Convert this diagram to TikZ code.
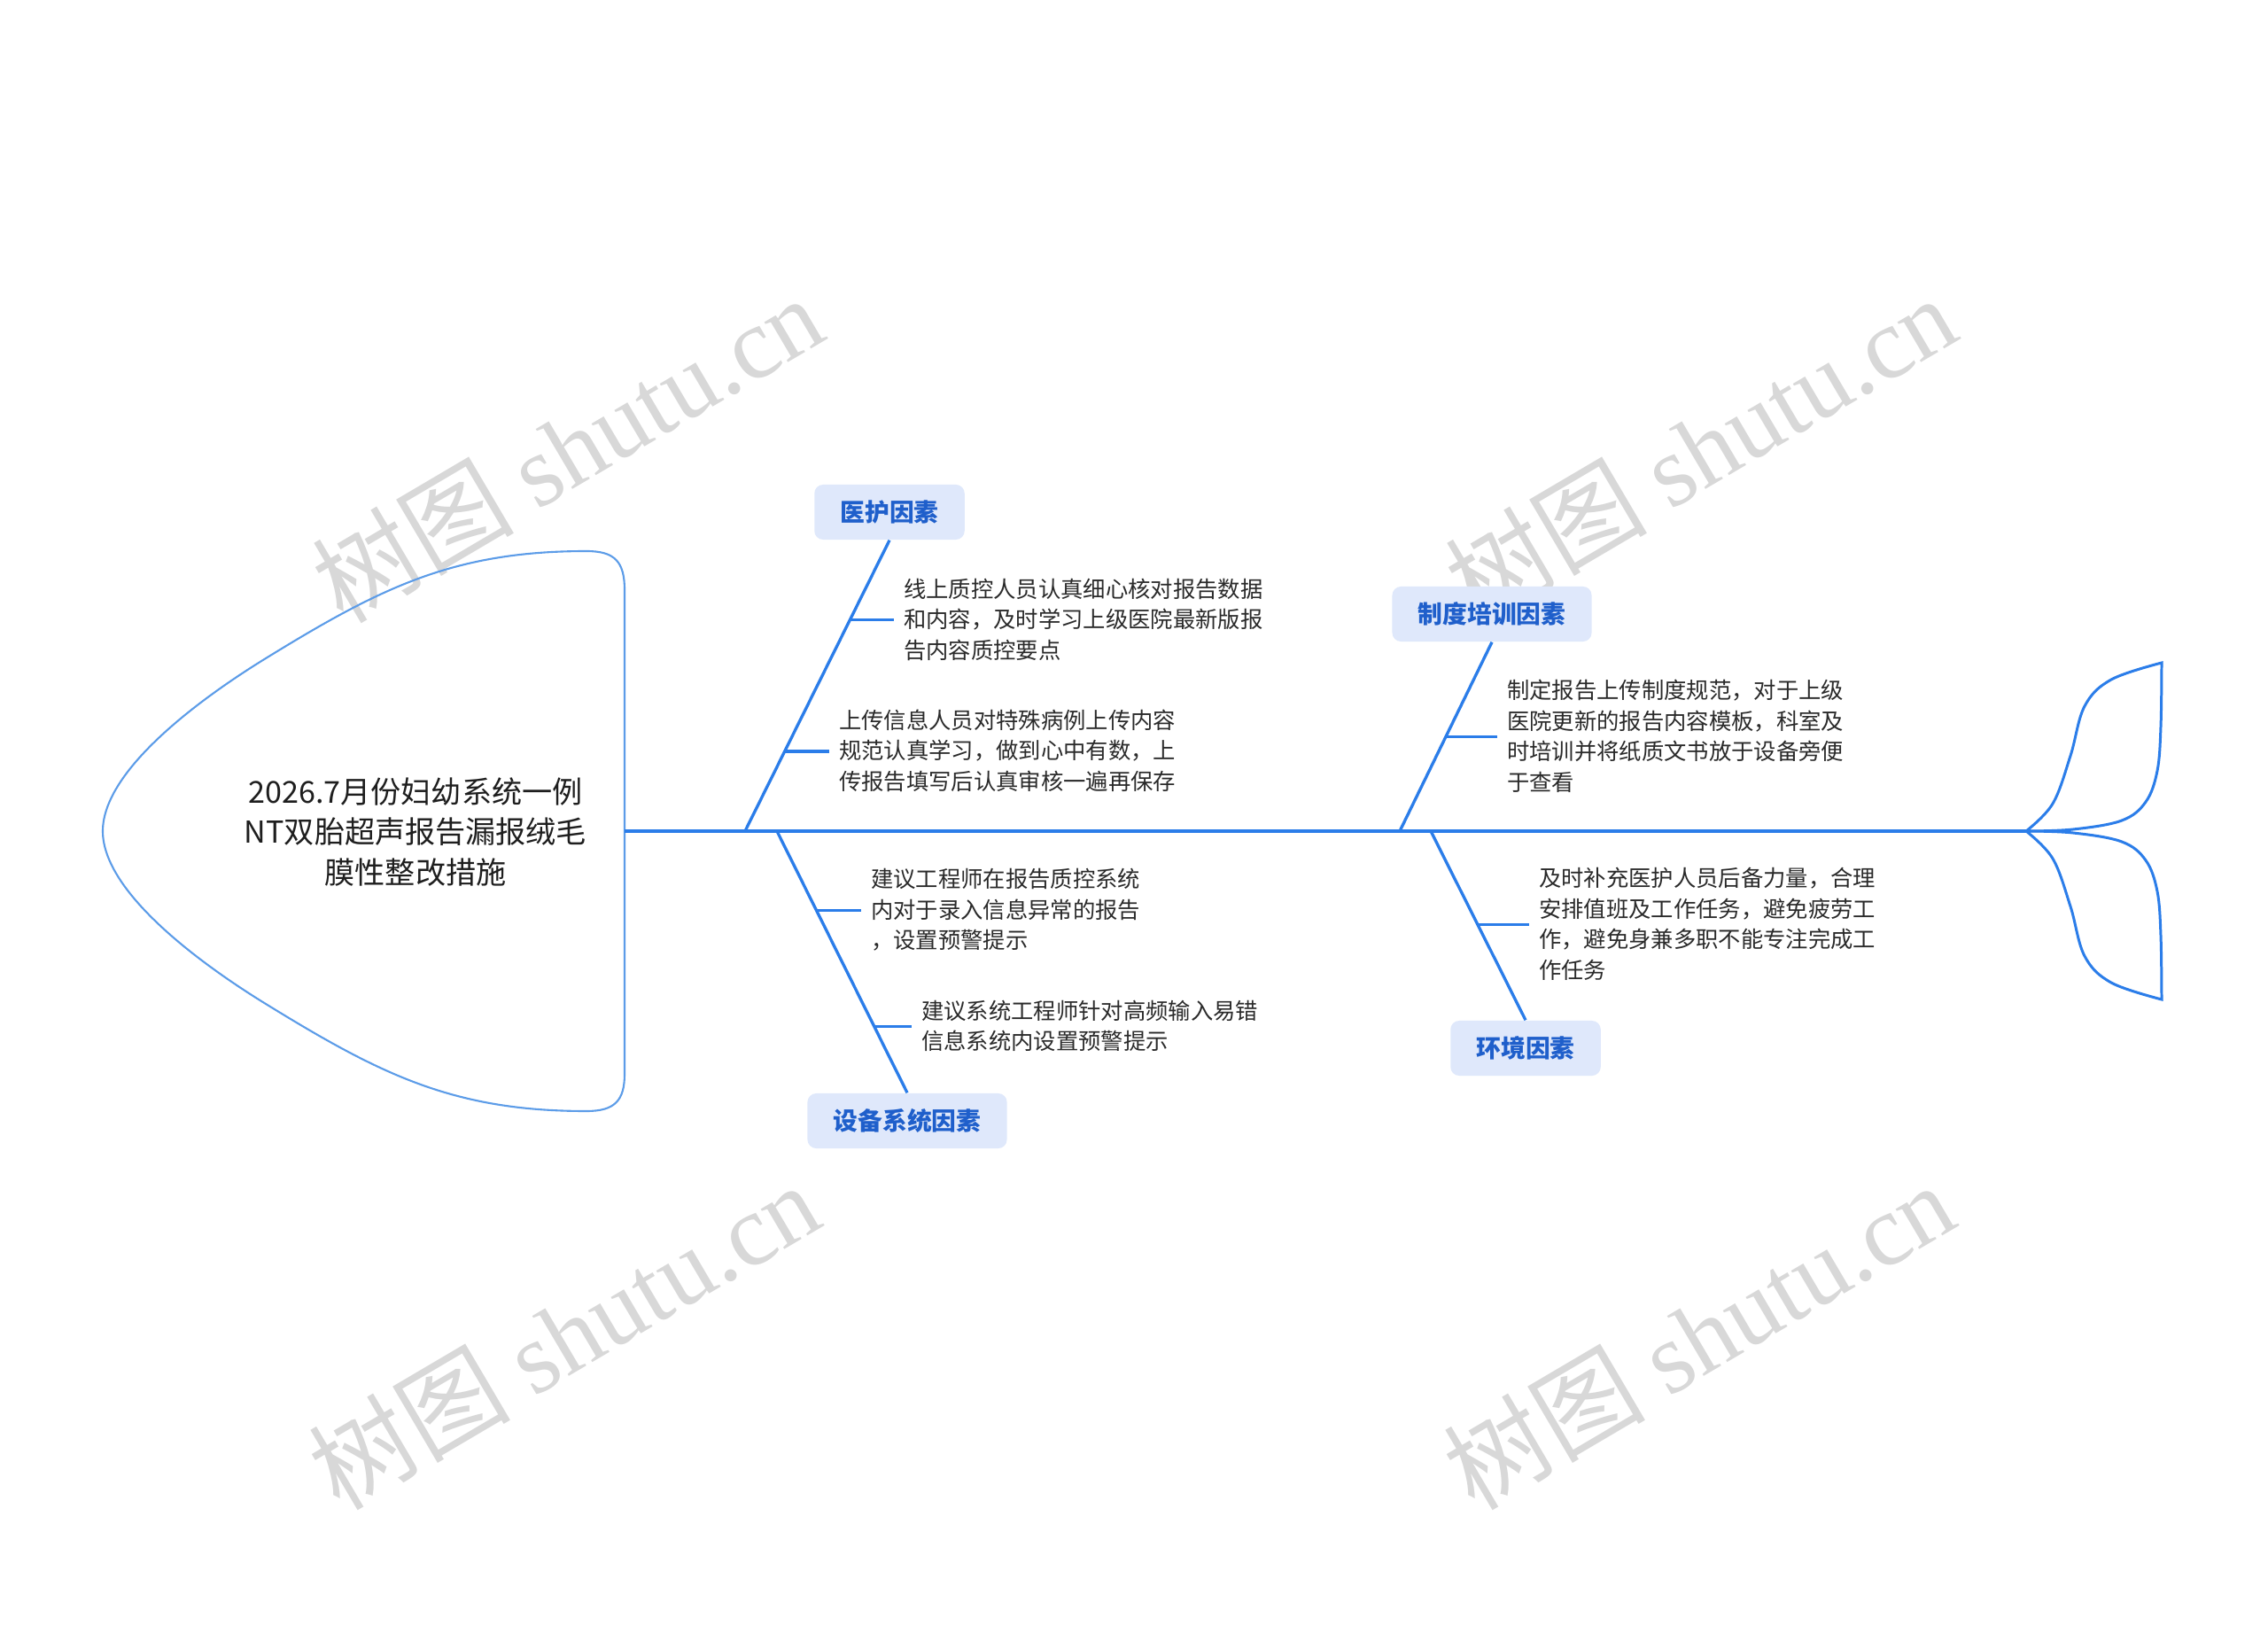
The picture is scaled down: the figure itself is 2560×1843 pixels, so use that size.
\documentclass[tikz,border=0pt]{standalone}
\usepackage{fontspec}
\setmainfont{Noto Sans CJK SC}
\newfontfamily\wmserif{Liberation Serif}
\usetikzlibrary{calc}
\definecolor{bone}{HTML}{2B7DE9}
\definecolor{headc}{HTML}{5C9CE8}
\definecolor{labtxt}{HTML}{1F5FCB}
\definecolor{labfill}{HTML}{DFE8FB}
\definecolor{bodytxt}{HTML}{2A2A2A}
\definecolor{titletxt}{HTML}{1E1E1E}
\definecolor{wmgray}{HTML}{D8D8D8}
\begin{document}
\begin{tikzpicture}[x=0.01cm,y=-0.01cm,
  boneline/.style={draw=bone,line width=0.95pt},
  tailline/.style={draw=bone,line width=0.85pt},
  headline/.style={draw=headc,line width=0.6pt},
  factor/.style={fill=labfill,rounded corners=2.8pt,text=labtxt,font=\fontsize{7.9}{9}\selectfont\bfseries,inner xsep=8.3pt,minimum height=0.62cm},
  cause/.style={text=bodytxt,font=\fontsize{7.2}{9.8}\selectfont,align=left,inner xsep=3pt,inner ysep=0pt,anchor=west},
  wmark/.style={text=wmgray,font=\fontsize{32.5}{34}\selectfont,rotate=30.5,inner sep=0pt}]
\fill[white] (0,0) rectangle (2560,1843);
\useasboundingbox (0,0) rectangle (2560,1843);
% watermarks
\node[wmark] (w1) at (640,506) {树图 {\wmserif shutu.cn}};
\node[wmark] (w2) at (1919,506) {树图 {\wmserif shutu.cn}};
\node[wmark] (w3) at (636,1507) {树图 {\wmserif shutu.cn}};
\node[wmark] (w4) at (1917,1507) {树图 {\wmserif shutu.cn}};
% head
\draw[headline] (705,1212) -- (705,666) .. controls (705,634) and (694,622) .. (662,622)
  .. controls (512,622) and (430,663) .. (300,743)
  .. controls (230,786) and (116,868) .. (116,938)
  .. controls (116,1008) and (230,1090) .. (300,1133)
  .. controls (430,1213) and (512,1254) .. (662,1254)
  .. controls (694,1254) and (705,1242) .. (705,1212);
\node[text=titletxt,font=\fontsize{9.7}{12.9}\selectfont,align=center] (title) at (469,939) {2026.7月份妇幼系统一例\\NT双胎超声报告漏报绒毛\\膜性整改措施};
% spine
\coordinate (headR) at (705,938);
\coordinate (tailV) at (2287,938);
\draw[boneline] (headR) -- (tailV);
% tail
\draw[tailline] plot[smooth,tension=0.6] coordinates {(2287,938) (2317,907) (2337,853) (2353,797) (2383,767) (2440,748)}
  -- plot[smooth,tension=0.6] coordinates {(2440,748) (2439,820) (2435,870) (2422,905) (2395,926) (2340,936) (2287,938)};
\draw[tailline] plot[smooth,tension=0.6] coordinates {(2287,938) (2317,969) (2337,1023) (2353,1079) (2383,1109) (2440,1128)}
  -- plot[smooth,tension=0.6] coordinates {(2440,1128) (2439,1056) (2435,1006) (2422,971) (2395,950) (2340,940) (2287,938)};
% spine joints
\coordinate (s1) at (841,938);
\coordinate (s2) at (877,938);
\coordinate (s3) at (1580,938);
\coordinate (s4) at (1615,938);
% factor boxes
\node[factor] (b1) at (1004,578) {医护因素};
\node[factor] (b2) at (1024,1265) {设备系统因素};
\node[factor] (b3) at (1684,693) {制度培训因素};
\node[factor] (b4) at (1722,1183) {环境因素};
\draw[boneline] (s1) -- (b1.south);
\draw[boneline] (s2) -- (b2.north);
\draw[boneline] (s3) -- (b3.south);
\draw[boneline] (s4) -- (b4.north);
% cause texts
\node[cause] (t1) at (1009,699) {线上质控人员认真细心核对报告数据\\和内容，及时学习上级医院最新版报\\告内容质控要点};
\node[cause] (t2) at (936,847) {上传信息人员对特殊病例上传内容\\规范认真学习，做到心中有数，上\\传报告填写后认真审核一遍再保存};
\node[cause] (t3) at (972,1027) {建议工程师在报告质控系统\\内对于录入信息异常的报告\\，设置预警提示};
\node[cause] (t4) at (1029,1158) {建议系统工程师针对高频输入易错\\信息系统内设置预警提示};
\node[cause] (t5) at (1690,831) {制定报告上传制度规范，对于上级\\医院更新的报告内容模板，科室及\\时培训并将纸质文书放于设备旁便\\于查看};
\node[cause] (t6) at (1726,1043) {及时补充医护人员后备力量，合理\\安排值班及工作任务，避免疲劳工\\作，避免身兼多职不能专注完成工\\作任务};
% ticks
\coordinate (k1) at ($(s1)!0.726!(b1.south)$);
\coordinate (k2) at ($(s1)!0.274!(b1.south)$);
\coordinate (k3) at ($(s2)!0.304!(b2.north)$);
\coordinate (k4) at ($(s2)!0.747!(b2.north)$);
\coordinate (k5) at ($(s3)!0.5!(b3.south)$);
\coordinate (k6) at ($(s4)!0.495!(b4.north)$);
\draw[boneline] (k1) -- (k1 -| t1.west);
\draw[boneline] (k2) -- (k2 -| t2.west);
\draw[boneline] (k3) -- (k3 -| t3.west);
\draw[boneline] (k4) -- (k4 -| t4.west);
\draw[boneline] (k5) -- (k5 -| t5.west);
\draw[boneline] (k6) -- (k6 -| t6.west);
\end{tikzpicture}
\end{document}
